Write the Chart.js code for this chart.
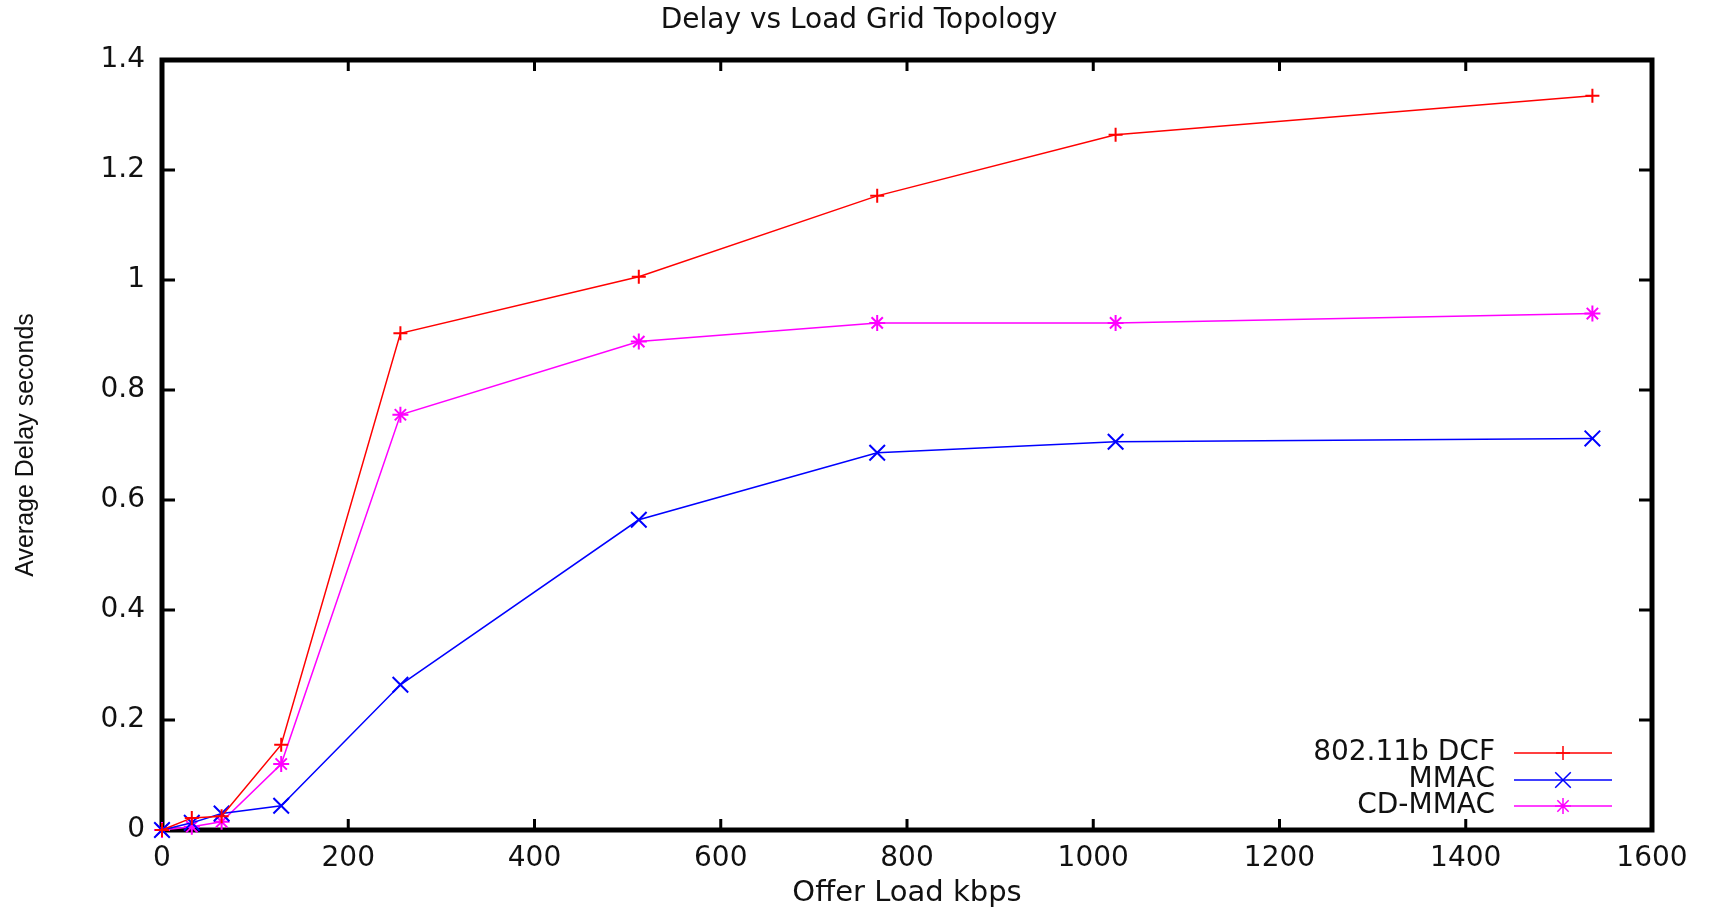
<!DOCTYPE html>
<html>
<head>
<meta charset="utf-8">
<script src="https://cdn.jsdelivr.net/npm/chart.js@4/dist/chart.umd.min.js"></script>
<style>
  html, body { margin: 0; padding: 0; background: #fff; }
  #wrap { width: 1709px; height: 908px; position: relative; }
</style>
</head>
<body>
<div id="wrap"><canvas id="chart"></canvas></div>
<script>
// Offered load (kbps) and average delay (s) per protocol
const loads = [0, 32, 64, 128, 256, 512, 768, 1024, 1536];
const dcfDelay = [0, 0.022, 0.025, 0.155, 0.903, 1.006, 1.153, 1.264, 1.335];
const mmacDelay = [0, 0.013, 0.030, 0.044, 0.264, 0.564, 0.686, 0.706, 0.712];
const cdmmacDelay = [0, 0.006, 0.015, 0.12, 0.755, 0.888, 0.922, 0.922, 0.939];

const seriesNames = ['802.11b DCF', 'MMAC', 'CD-MMAC'];
const chartTitle = 'Delay vs Load Grid Topology';

const toPoints = (ys) => loads.map((x, i) => ({ x: x, y: ys[i] }));

const tickFont = { family: 'DejaVu Sans', size: 28 };

// title is centred on the page, not on the plot
const titlePlugin = {
    id: 'pageTitle',
    afterDraw(chart) {
        const { ctx } = chart;
        ctx.save();
        ctx.font = '28px "DejaVu Sans"';
        ctx.fillStyle = '#111';
        ctx.textAlign = 'center';
        ctx.textBaseline = 'middle';
        ctx.fillText(chartTitle, 859, 21);
        ctx.restore();
    }
};

// frame + inward tick marks, gnuplot style
const framePlugin = {
    id: 'frame',
    beforeDatasetsDraw(chart) {
        const { ctx, chartArea: a, scales } = chart;
        ctx.save();
        ctx.strokeStyle = '#000';
        ctx.lineWidth = 3;
        scales.x.ticks.forEach(t => {
            const px = scales.x.getPixelForValue(t.value);
            ctx.beginPath();
            ctx.moveTo(px, a.bottom); ctx.lineTo(px, a.bottom - 11);
            ctx.moveTo(px, a.top); ctx.lineTo(px, a.top + 11);
            ctx.stroke();
        });
        scales.y.ticks.forEach(t => {
            const py = scales.y.getPixelForValue(t.value);
            ctx.beginPath();
            ctx.moveTo(a.left, py); ctx.lineTo(a.left + 13, py);
            ctx.moveTo(a.right, py); ctx.lineTo(a.right - 13, py);
            ctx.stroke();
        });
        ctx.lineWidth = 5;
        ctx.strokeRect(a.left, a.top, a.right - a.left, a.bottom - a.top);
        ctx.restore();
    }
};

// right-aligned key inside the plot, line sample on the right
const keyPlugin = {
    id: 'key',
    afterDraw(chart) {
        const { ctx } = chart;
        const textRight = 1495, lineL = 1514, lineR = 1612;
        const rows = [753, 780, 806];
        ctx.save();
        ctx.font = '28px "DejaVu Sans"';
        ctx.textAlign = 'right';
        ctx.textBaseline = 'middle';
        chart.data.datasets.forEach((ds, i) => {
            const y = rows[i];
            ctx.fillStyle = '#111';
            ctx.fillText(ds.label, textRight, y);
            ctx.strokeStyle = ds.borderColor;
            ctx.lineWidth = 1.5;
            ctx.beginPath();
            ctx.moveTo(lineL, y); ctx.lineTo(lineR, y);
            ctx.stroke();
            Chart.helpers.drawPoint(ctx, {
                pointStyle: ds.pointStyle,
                radius: ds.pointRadius,
                borderWidth: ds.pointBorderWidth,
                rotation: 0
            }, (lineL + lineR) / 2, y);
        });
        ctx.restore();
    }
};

const common = {
    borderWidth: 1.5,
    pointBorderWidth: 2,
    backgroundColor: 'transparent',
    tension: 0,
    fill: false,
    clip: false
};

new Chart(document.getElementById('chart'), {
    type: 'line',
    data: {
        datasets: [
            Object.assign({}, common, {
                label: seriesNames[0],
                data: toPoints(dcfDelay),
                borderColor: 'rgb(255, 0, 0)',
                pointBorderColor: 'rgb(255, 0, 0)',
                pointStyle: 'cross',
                pointRadius: 7
            }),
            Object.assign({}, common, {
                label: seriesNames[1],
                data: toPoints(mmacDelay),
                borderColor: 'rgb(0, 0, 255)',
                pointBorderColor: 'rgb(0, 0, 255)',
                pointStyle: 'crossRot',
                pointRadius: 11
            }),
            Object.assign({}, common, {
                label: seriesNames[2],
                data: toPoints(cdmmacDelay),
                borderColor: 'rgb(255, 0, 255)',
                pointBorderColor: 'rgb(255, 0, 255)',
                pointStyle: 'star',
                pointRadius: 8
            })
        ]
    },
    options: {
        responsive: true,
        maintainAspectRatio: false,
        animation: false,
        layout: { padding: { left: 0, right: 57, top: 60, bottom: 0 } },
        scales: {
            x: {
                type: 'linear',
                min: 0,
                max: 1600,
                grid: { display: false, drawTicks: false },
                border: { display: false },
                ticks: {
                    stepSize: 200,
                    font: tickFont,
                    color: '#111',
                    padding: 12,
                    maxRotation: 0,
                    callback: (v) => String(v)
                },
                title: {
                    display: true,
                    text: 'Offer Load kbps',
                    font: { family: 'DejaVu Sans', size: 29, lineHeight: 1.0 },
                    color: '#111',
                    padding: { top: 0, bottom: 0 }
                },
                afterFit: (s) => { s.height = 78; }
            },
            y: {
                min: 0,
                max: 1.4,
                grid: { display: false, drawTicks: false },
                border: { display: false },
                ticks: {
                    stepSize: 0.2,
                    font: tickFont,
                    color: '#111',
                    padding: 17,
                    callback: (v) => String(parseFloat(v.toFixed(1)))
                },
                title: {
                    display: true,
                    text: 'Average Delay seconds',
                    font: { family: 'Liberation Sans', size: 25 },
                    color: '#111',
                    padding: { top: 11, bottom: 0 }
                },
                afterFit: (s) => { s.width = 162; }
            }
        },
        plugins: {
            legend: { display: false },
            tooltip: { enabled: false },
            title: { display: false }
        }
    },
    plugins: [framePlugin, keyPlugin, titlePlugin]
});
</script>
</body>
</html>
